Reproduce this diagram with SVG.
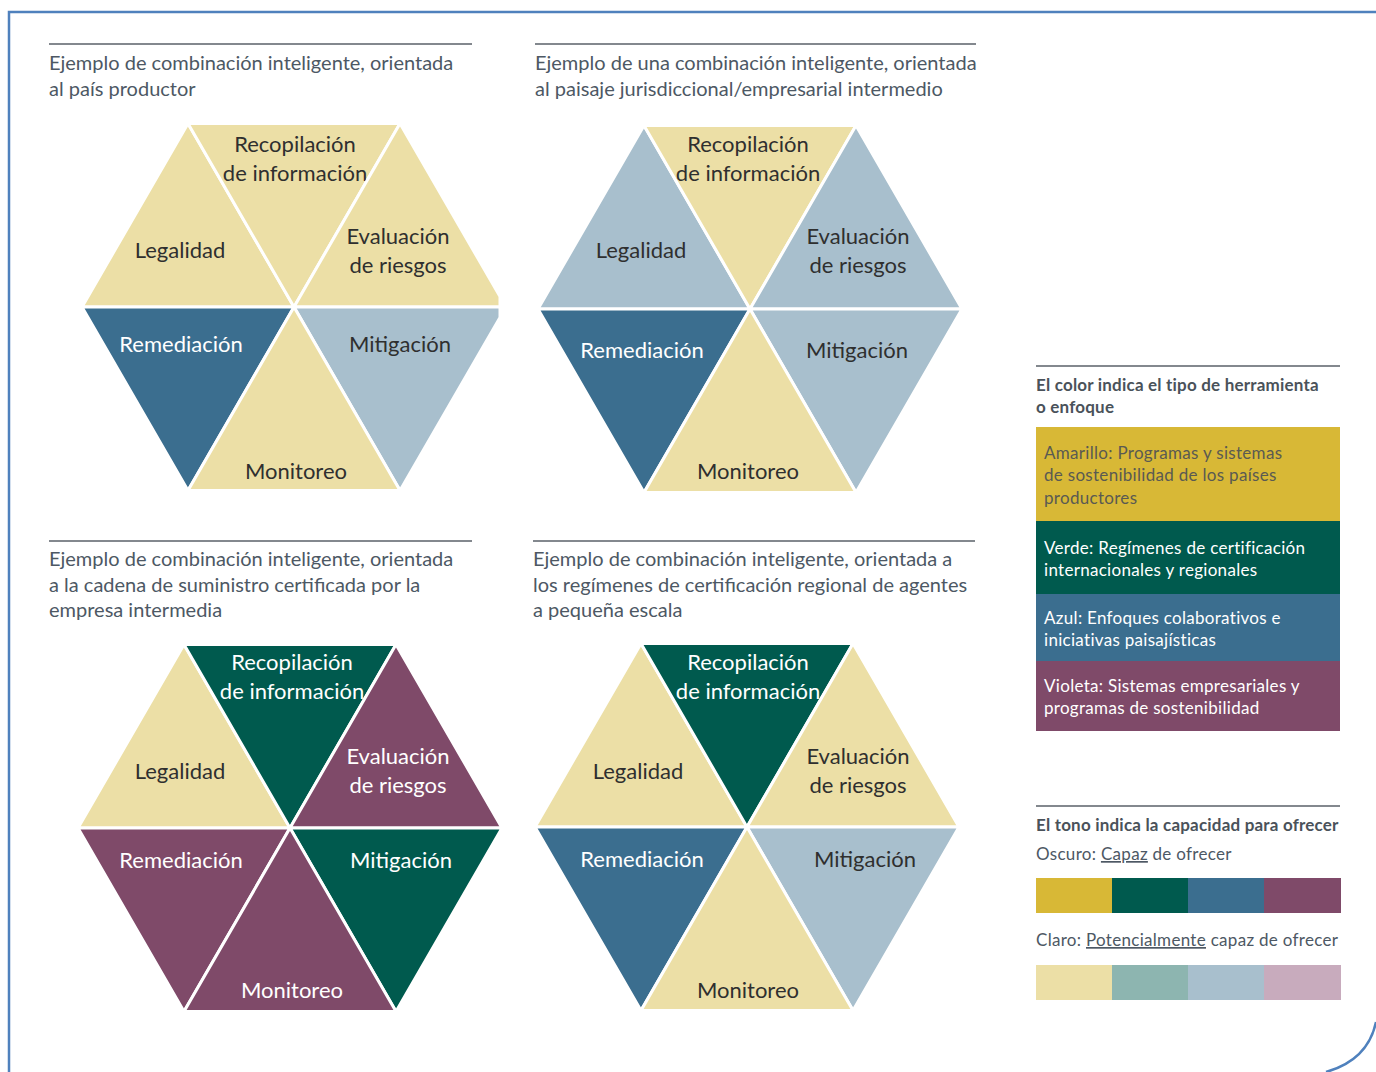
<svg xmlns="http://www.w3.org/2000/svg" width="1376" height="1072" viewBox="0 0 1376 1072">
<style>
.tri{stroke:#fff;stroke-width:3;stroke-linejoin:miter}
.ly{fill:#ecdfa6}.lb{fill:#a8bfcd}.db{fill:#3b6e8f}.dg{fill:#005a4e}.vi{fill:#7f4a69}
.dy{fill:#d8b836}.lg{fill:#8db5b0}.lv{fill:#c8abbd}
.lbl{font-family:Lato,"Open Sans",sans-serif;font-size:22px;text-anchor:middle}
.dk{fill:#2f2f2f}.wh{fill:#ffffff}
.ttl{font-family:Lato,"Open Sans",sans-serif;font-size:20px;fill:#4d5864}
.rule{stroke:#5a6068;stroke-width:1.5}
.lgh{font-family:Lato,"Open Sans",sans-serif;font-size:17px;letter-spacing:0.2px;font-weight:bold;fill:#4a525a}
.lgt{font-family:Lato,"Open Sans",sans-serif;font-size:17px;letter-spacing:0.3px}
.brd{fill:none;stroke:#4f81bd;stroke-width:2.5}
</style>
<g id="border">
<path class="brd" d="M9,1072 V12 H1376"/>
<path class="brd" d="M1376,1022 Q1368,1060 1326,1072"/>
</g>
<g id="connectors"></g>

<g id="hex1">
<text class="ttl" x="49" y="70">Ejemplo de combinación inteligente, orientada</text>
<text class="ttl" x="49" y="96">al país productor</text>
<line class="rule" x1="49" y1="44" x2="472" y2="44"/>
<g id="h1-legalidad"><polygon class="tri ly" points="82,307 188,123.4 294,307"/><text class="lbl dk" x="180" y="258">Legalidad</text></g>
<g id="h1-recop"><polygon class="tri ly" points="188,123.4 400,123.4 294,307"/><text class="lbl dk" x="295" y="152">Recopilación</text><text class="lbl dk" x="295" y="181">de información</text></g>
<g id="h1-eval"><polygon class="tri ly" points="294,307 400,123.4 500,296.6 500,307"/><text class="lbl dk" x="398" y="244">Evaluación</text><text class="lbl dk" x="398" y="273">de riesgos</text></g>
<g id="h1-remed"><polygon class="tri db" points="82,307 294,307 188,490.6"/><text class="lbl wh" x="181" y="352">Remediación</text></g>
<g id="h1-mitig"><polygon class="tri lb" points="294,307 500,307 500,317.4 400,490.6"/><text class="lbl dk" x="400" y="352">Mitigación</text></g>
<g id="h1-monit"><polygon class="tri ly" points="188,490.6 294,307 400,490.6"/><text class="lbl dk" x="296" y="479">Monitoreo</text></g>
</g>

<g id="hex2">
<text class="ttl" x="535" y="70">Ejemplo de una combinación inteligente, orientada</text>
<text class="ttl" x="535" y="96">al paisaje jurisdiccional/empresarial intermedio</text>
<line class="rule" x1="535" y1="44" x2="976" y2="44"/>
<g id="h2-legalidad"><polygon class="tri lb" points="538,309 644,125.4 750,309"/><text class="lbl dk" x="641" y="258">Legalidad</text></g>
<g id="h2-recop"><polygon class="tri ly" points="644,125.4 856,125.4 750,309"/><text class="lbl dk" x="748" y="152">Recopilación</text><text class="lbl dk" x="748" y="181">de información</text></g>
<g id="h2-eval"><polygon class="tri lb" points="750,309 856,125.4 962,309"/><text class="lbl dk" x="858" y="244">Evaluación</text><text class="lbl dk" x="858" y="273">de riesgos</text></g>
<g id="h2-remed"><polygon class="tri db" points="538,309 750,309 644,492.6"/><text class="lbl wh" x="642" y="358">Remediación</text></g>
<g id="h2-mitig"><polygon class="tri lb" points="750,309 962,309 856,492.6"/><text class="lbl dk" x="857" y="358">Mitigación</text></g>
<g id="h2-monit"><polygon class="tri ly" points="644,492.6 750,309 856,492.6"/><text class="lbl dk" x="748" y="479">Monitoreo</text></g>
</g>

<g id="hex3">
<text class="ttl" x="49" y="566">Ejemplo de combinación inteligente, orientada</text>
<text class="ttl" x="49" y="592">a la cadena de suministro certificada por la</text>
<text class="ttl" x="49" y="617">empresa intermedia</text>
<line class="rule" x1="49" y1="541" x2="472" y2="541"/>
<g id="h3-legalidad"><polygon class="tri ly" points="78,828 184,644.4 290,828"/><text class="lbl dk" x="180" y="779">Legalidad</text></g>
<g id="h3-recop"><polygon class="tri dg" points="184,644.4 396,644.4 290,828"/><text class="lbl wh" x="292" y="670">Recopilación</text><text class="lbl wh" x="292" y="699">de información</text></g>
<g id="h3-eval"><polygon class="tri vi" points="290,828 396,644.4 502,828"/><text class="lbl wh" x="398" y="764">Evaluación</text><text class="lbl wh" x="398" y="793">de riesgos</text></g>
<g id="h3-remed"><polygon class="tri vi" points="78,828 290,828 184,1011.6"/><text class="lbl wh" x="181" y="868">Remediación</text></g>
<g id="h3-mitig"><polygon class="tri dg" points="290,828 502,828 396,1011.6"/><text class="lbl wh" x="401" y="868">Mitigación</text></g>
<g id="h3-monit"><polygon class="tri vi" points="184,1011.6 290,828 396,1011.6"/><text class="lbl wh" x="292" y="998">Monitoreo</text></g>
</g>

<g id="hex4">
<text class="ttl" x="533" y="566">Ejemplo de combinación inteligente, orientada a</text>
<text class="ttl" x="533" y="592">los regímenes de certificación regional de agentes</text>
<text class="ttl" x="533" y="617">a pequeña escala</text>
<line class="rule" x1="533" y1="541" x2="975" y2="541"/>
<g id="h4-legalidad"><polygon class="tri ly" points="535,827 641,643.4 747,827"/><text class="lbl dk" x="638" y="779">Legalidad</text></g>
<g id="h4-recop"><polygon class="tri dg" points="641,643.4 853,643.4 747,827"/><text class="lbl wh" x="748" y="670">Recopilación</text><text class="lbl wh" x="748" y="699">de información</text></g>
<g id="h4-eval"><polygon class="tri ly" points="747,827 853,643.4 959,827"/><text class="lbl dk" x="858" y="764">Evaluación</text><text class="lbl dk" x="858" y="793">de riesgos</text></g>
<g id="h4-remed"><polygon class="tri db" points="535,827 747,827 641,1010.6"/><text class="lbl wh" x="642" y="867">Remediación</text></g>
<g id="h4-mitig"><polygon class="tri lb" points="747,827 959,827 853,1010.6"/><text class="lbl dk" x="865" y="867">Mitigación</text></g>
<g id="h4-monit"><polygon class="tri ly" points="641,1010.6 747,827 853,1010.6"/><text class="lbl dk" x="748" y="998">Monitoreo</text></g>
</g>

<g id="legend-color">
<line class="rule" x1="1036" y1="366" x2="1340" y2="366"/>
<text class="lgh" x="1036" y="391">El color indica el tipo de herramienta</text>
<text class="lgh" x="1036" y="413">o enfoque</text>
<rect class="dy" x="1036" y="427" width="304" height="94"/>
<text class="lgt" fill="#5a5a52" x="1044" y="459">Amarillo: Programas y sistemas</text>
<text class="lgt" fill="#5a5a52" x="1044" y="481">de sostenibilidad de los países</text>
<text class="lgt" fill="#5a5a52" x="1044" y="504">productores</text>
<rect class="dg" x="1036" y="521" width="304" height="73"/>
<text class="lgt wh" x="1044" y="554">Verde: Regímenes de certificación</text>
<text class="lgt wh" x="1044" y="576">internacionales y regionales</text>
<rect class="db" x="1036" y="594" width="304" height="67"/>
<text class="lgt wh" x="1044" y="624">Azul: Enfoques colaborativos e</text>
<text class="lgt wh" x="1044" y="646">iniciativas paisajísticas</text>
<rect class="vi" x="1036" y="661" width="304" height="70"/>
<text class="lgt wh" x="1044" y="692">Violeta: Sistemas empresariales y</text>
<text class="lgt wh" x="1044" y="714">programas de sostenibilidad</text>
</g>

<g id="legend-tone">
<line class="rule" x1="1036" y1="806" x2="1340" y2="806"/>
<text class="lgh" x="1036" y="831">El tono indica la capacidad para ofrecer</text>
<text class="lgt" fill="#4d5864" x="1036" y="860">Oscuro: <tspan text-decoration="underline">Capaz</tspan> de ofrecer</text>
<rect class="dy" x="1036" y="878" width="76" height="35"/>
<rect class="dg" x="1112" y="878" width="76" height="35"/>
<rect class="db" x="1188" y="878" width="76" height="35"/>
<rect class="vi" x="1264" y="878" width="77" height="35"/>
<text class="lgt" fill="#4d5864" x="1036" y="946">Claro: <tspan text-decoration="underline">Potencialmente</tspan> capaz de ofrecer</text>
<rect class="ly" x="1036" y="965" width="76" height="35"/>
<rect class="lg" x="1112" y="965" width="76" height="35"/>
<rect class="lb" x="1188" y="965" width="76" height="35"/>
<rect class="lv" x="1264" y="965" width="77" height="35"/>
</g>
</svg>
